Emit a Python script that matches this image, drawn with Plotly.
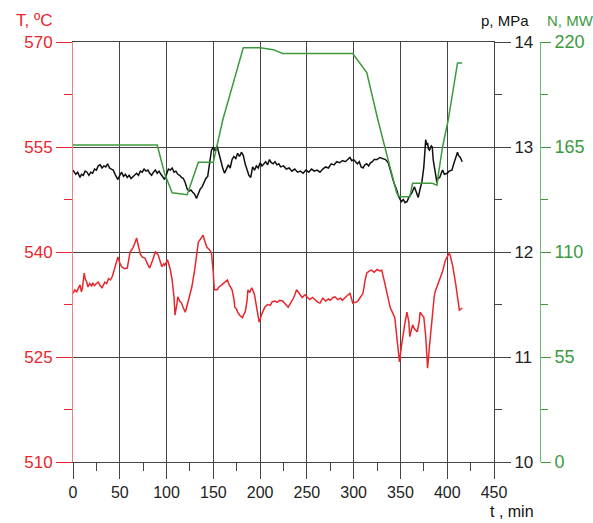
import plotly.graph_objects as go

# ---- data ----
t_T = [0, 2, 4, 6, 7.5, 9, 10, 12, 13, 15, 16, 18, 20, 21, 23, 25, 27, 29, 31, 33, 34, 36, 38, 40, 42, 45, 48, 50,
       52, 55, 58, 61, 64, 66, 68, 70, 72, 74, 77, 80, 82, 85, 88, 91, 93, 95, 97, 98, 100, 101, 104, 106, 108, 109,
       111, 112, 114, 116, 118, 120, 123, 125, 127, 130, 132, 134, 136, 139, 141, 143, 146, 148, 150, 151, 154, 156,
       159, 162, 165, 167, 170, 172, 173, 175, 176, 178, 181, 183, 184, 186, 187, 189, 191, 193, 194, 197, 199, 202,
       205, 208, 211, 213, 216, 218, 221, 224, 227, 230, 233, 236, 239, 242, 245, 248, 250, 253, 256, 259, 262, 264,
       267, 270, 273, 275, 278, 280, 283, 286, 288, 291, 294, 296, 298, 299, 301, 304, 307, 310, 312, 314, 317, 319,
       322, 325, 328, 330, 333, 336, 339, 342, 344, 346, 348, 349, 351, 353, 355, 357, 359, 360, 362, 363, 365, 368,
       370, 371, 373, 375, 377, 379, 381, 384, 386, 387, 390, 392, 395, 398, 400, 402, 403, 406, 409, 411, 413, 416]
T_vals = [534.1, 534.6, 534.3, 535.0, 535.3, 534.3, 534.8, 537.0, 536.2, 535.6, 535.0, 535.5, 535.1, 535.6, 535.2,
          535.5, 535.7, 535.2, 534.9, 535.4, 535.7, 535.5, 536.2, 536.0, 536.5, 537.9, 539.3, 538.4, 537.9, 537.6,
          537.7, 540.0, 540.6, 541.2, 542.0, 540.8, 539.7, 539.3, 539.1, 538.2, 537.7, 538.8, 540.0, 539.6, 538.8,
          537.9, 538.3, 538.1, 538.6, 538.9, 537.5, 536.0, 533.5, 531.0, 532.5, 533.6, 533.0, 532.7, 532.0, 531.4,
          532.9, 534.0, 535.0, 537.4, 539.5, 541.4, 541.8, 542.4, 541.5, 540.7, 540.3, 539.9, 537.0, 534.6, 534.6,
          535.0, 535.3, 535.6, 536.0, 535.3, 534.6, 533.3, 532.1, 531.8, 531.4, 531.0, 530.6, 531.2, 531.4, 533.0,
          534.6, 534.2, 534.9, 534.3, 533.9, 531.5, 530.0, 531.2, 532.1, 532.5, 532.4, 532.9, 533.0, 532.8, 533.1,
          533.0, 532.5, 532.1, 532.8, 533.5, 534.6, 534.0, 533.5, 533.9, 533.6, 533.2, 533.5, 533.1, 532.8, 532.7,
          533.4, 533.0, 533.3, 533.1, 533.5, 533.6, 533.2, 533.4, 533.1, 533.5, 533.8, 534.1, 533.2, 532.7, 532.8,
          532.9, 533.5, 534.1, 535.8, 537.0, 537.3, 537.4, 537.1, 537.5, 537.3, 537.4, 535.7, 534.0, 532.1, 531.2,
          530.6, 528.0, 525.5, 524.3, 526.5, 528.4, 530.0, 531.4, 530.0, 527.9, 528.8, 529.6, 529.0, 528.6, 530.0,
          531.4, 531.0, 530.7, 528.0, 523.4, 526.5, 531.3, 533.5, 534.3, 535.4, 536.0, 537.2, 538.8, 539.3, 539.8,
          539.6, 537.9, 535.5, 533.3, 531.7, 532.0]

t_p = [0, 3, 5, 7.5, 9, 11, 13, 15, 17, 19, 21, 23, 25, 27, 29, 31, 33, 35, 37, 39, 41, 43, 45, 47, 48, 50, 52, 54,
       56, 58, 60, 62, 64, 66, 68, 70, 72, 74, 76, 78, 80, 82, 84, 86, 88, 90, 92, 94, 96, 98, 100, 102, 104, 106, 108,
       110, 112, 114, 116, 118, 120, 122, 124, 126, 128, 130, 132, 134, 136, 138, 140, 142, 144, 146, 148, 150, 152,
       154, 156, 158, 160, 162, 164, 166, 168, 170, 172, 174, 176, 178, 180, 182, 184, 186, 188, 190, 192, 194, 196,
       198, 200, 202, 204, 206, 208, 210, 212, 214, 216, 218, 220, 222, 225, 228, 231, 234, 237, 240, 243, 246, 249,
       252, 255, 258, 261, 264, 267, 270, 273, 276, 279, 282, 285, 288, 291, 294, 296, 298, 300, 302, 304, 306, 308,
       310, 312, 314, 316, 318, 320, 322, 325, 328, 331, 334, 337, 339, 341, 343, 346, 348, 351, 353, 355, 357, 359,
       362, 364, 365, 367, 369, 371, 373, 375, 376, 377, 378, 379, 380, 381, 383, 384, 385, 387, 389, 390, 392, 394,
       395, 397, 400, 402, 405, 407, 409, 410, 411, 412, 414, 416]
p_vals = [12.78, 12.74, 12.76, 12.71, 12.74, 12.73, 12.77, 12.76, 12.73, 12.76, 12.75, 12.79, 12.78, 12.82, 12.83,
          12.80, 12.82, 12.81, 12.84, 12.80, 12.79, 12.78, 12.74, 12.71, 12.69, 12.73, 12.76, 12.72, 12.74, 12.71,
          12.73, 12.70, 12.72, 12.74, 12.75, 12.73, 12.77, 12.76, 12.79, 12.77, 12.78, 12.75, 12.73, 12.76, 12.78,
          12.75, 12.77, 12.74, 12.72, 12.69, 12.74, 12.79, 12.78, 12.80, 12.76, 12.77, 12.74, 12.73, 12.71, 12.70,
          12.66, 12.60, 12.58, 12.59, 12.57, 12.55, 12.51, 12.56, 12.60, 12.62, 12.66, 12.70, 12.72, 12.86, 12.97,
          13.00, 12.96, 13.01, 12.93, 12.86, 12.80, 12.75, 12.79, 12.83, 12.80, 12.88, 12.91, 12.89, 12.94, 12.91,
          12.95, 12.92, 12.84, 12.78, 12.73, 12.71, 12.81, 12.78, 12.82, 12.80, 12.85, 12.82, 12.84, 12.86, 12.83,
          12.88, 12.85, 12.84, 12.86, 12.83, 12.84, 12.81, 12.82, 12.79, 12.80, 12.77, 12.79, 12.76, 12.77, 12.75,
          12.78, 12.76, 12.79, 12.77, 12.78, 12.76, 12.79, 12.81, 12.80, 12.84, 12.83, 12.86, 12.85, 12.87, 12.86,
          12.89, 12.90, 12.87, 12.88, 12.86, 12.84, 12.86, 12.81, 12.80, 12.83, 12.84, 12.82, 12.85, 12.86, 12.88,
          12.88, 12.90, 12.89, 12.88, 12.85, 12.79, 12.71, 12.66, 12.59, 12.53, 12.48, 12.50, 12.47, 12.48, 12.52,
          12.56, 12.60, 12.62, 12.57, 12.52, 12.60, 12.67, 12.81, 12.95, 13.07, 13.02, 13.04, 12.98, 12.97, 13.01,
          13.00, 12.88, 12.76, 12.66, 12.70, 12.71, 12.76, 12.78, 12.74, 12.75, 12.77, 12.78, 12.84, 12.90, 12.94,
          12.95, 12.92, 12.90, 12.86]

t_N = [0, 90, 98, 106, 122, 134, 150, 160, 182, 200, 214, 224, 250, 296, 299, 314, 326, 337, 346, 349, 360, 363, 378,
       384, 389, 390, 395, 401, 411, 416]
N_vals = [166, 166, 151, 141, 140, 157, 157, 179, 217, 217, 216, 214, 214, 214, 214, 204, 179, 158, 141, 139, 139, 146,
          146, 146, 145, 149, 165, 179, 209, 209]

x_ticks = [0, 50, 100, 150, 200, 250, 300, 350, 400, 450]
T_ticks = [510, 525, 540, 555, 570]
p_ticks = [10, 11, 12, 13, 14]
N_ticks = [0, 55, 110, 165, 220]

RED = "#e8262c"
GREEN = "#3c9a3c"
BLACK = "#111111"
GRID = "#444444"
FONT = "Liberation Sans, Arial, sans-serif"

W, H = 593, 523
ML, MR, MT, MB = 73, 33, 42, 61
plot_w = W - ML - MR
x_end = (494 - ML) / plot_w
n_pos = (540 - ML) / plot_w

fig = go.Figure()
fig.add_trace(go.Scatter(x=t_T, y=T_vals, mode="lines", line=dict(color=RED, width=1.5), yaxis="y"))
fig.add_trace(go.Scatter(x=t_p, y=p_vals, mode="lines", line=dict(color=BLACK, width=1.5), yaxis="y2"))
fig.add_trace(go.Scatter(x=t_N, y=N_vals, mode="lines", line=dict(color=GREEN, width=1.5), yaxis="y3"))

fig.update_layout(
    width=W, height=H,
    margin=dict(l=ML, r=MR, t=MT, b=MB, pad=0),
    paper_bgcolor="white", plot_bgcolor="white",
    showlegend=False,
    font=dict(family=FONT, size=16, color=BLACK),
    xaxis=dict(
        domain=[0, x_end], range=[0, 450], tickvals=x_ticks, ticktext=[str(v) for v in x_ticks],
        showgrid=True, gridcolor=GRID, gridwidth=1, zeroline=False,
        showline=True, linecolor=GRID, linewidth=1, mirror=True,
        ticks="outside", ticklen=16, tickcolor=GRID, tickwidth=1,
        minor=dict(dtick=25, tick0=0, ticklen=8, tickcolor=GRID, ticks="outside", showgrid=False),
        tickfont=dict(size=16, color="#222222"), automargin=False,
    ),
    yaxis=dict(
        range=[510, 570], tickvals=T_ticks, ticktext=[str(v) for v in T_ticks],
        showgrid=True, gridcolor=GRID, gridwidth=1, zeroline=False,
        showline=True, linecolor="#f08080", linewidth=1,
        ticks="outside", ticklen=16, tickcolor=RED, tickwidth=1,
        minor=dict(dtick=7.5, tick0=510, ticklen=8, tickcolor=RED, ticks="outside", showgrid=False),
        tickfont=dict(size=17, color=RED), automargin=False,
    ),
    yaxis2=dict(
        range=[10, 14], tickvals=p_ticks, ticktext=[str(v) for v in p_ticks],
        overlaying="y", side="right", anchor="x",
        showgrid=False, zeroline=False,
        showline=True, linecolor=GRID, linewidth=1,
        ticks="outside", ticklen=16, tickcolor=GRID, tickwidth=1,
        minor=dict(dtick=0.5, tick0=10, ticklen=7, tickcolor=GRID, ticks="outside", showgrid=False),
        tickfont=dict(size=17, color="#222222"), automargin=False,
    ),
    yaxis3=dict(
        range=[0, 220], tickvals=N_ticks, ticktext=[str(v) for v in N_ticks],
        overlaying="y", side="right", anchor="free", position=n_pos,
        showgrid=False, zeroline=False,
        showline=True, linecolor="#6dbb6d", linewidth=1,
        ticks="outside", ticklen=10, tickcolor=GREEN, tickwidth=1,
        minor=dict(dtick=27.5, tick0=0, ticklen=7, tickcolor=GREEN, ticks="outside", showgrid=False),
        tickfont=dict(size=18, color=GREEN), automargin=False,
    ),
)

def px_x(px):
    return (px - ML) / plot_w

def px_y(py):
    return 1 - (py - MT) / (H - MT - MB)

ann = [
    dict(text="T, ºC", x=px_x(54), y=px_y(21), xanchor="right", yanchor="middle", font=dict(color=RED, size=17)),
    dict(text="p, MPa", x=px_x(531), y=px_y(21), xanchor="right", yanchor="middle", font=dict(color=BLACK, size=15)),
    dict(text="N, MW", x=px_x(545), y=px_y(21), xanchor="left", yanchor="middle", font=dict(color=GREEN, size=15)),
    dict(text="t , min", x=px_x(536), y=px_y(511), xanchor="right", yanchor="middle", font=dict(color=BLACK, size=16)),
]
for a in ann:
    fig.add_annotation(xref="paper", yref="paper", showarrow=False, **a)

fig.write_html("out.html")
